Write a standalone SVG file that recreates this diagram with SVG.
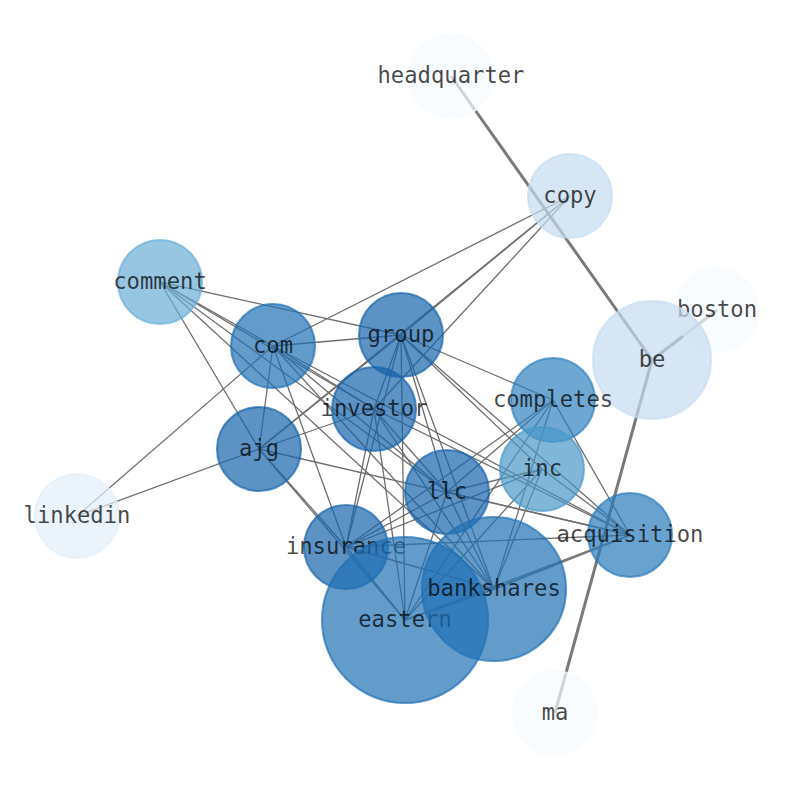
<svg xmlns="http://www.w3.org/2000/svg" width="794" height="790" viewBox="0 0 794 790">
<style>
.e{stroke:#6e6e6e;stroke-width:1.3;fill:none}
.t{stroke:#7a7a7a;stroke-width:3;fill:none}
.n{fill-opacity:0.7;stroke-opacity:0.7;stroke-width:2.1}
.l{font-family:"DejaVu Sans Mono",monospace;font-size:22.2px;fill:#000;fill-opacity:0.72;text-anchor:middle}
</style>
<rect width="794" height="790" fill="#fff"/>
<g id="edges">
<line class="t" x1="451" y1="76" x2="652" y2="360"/>
<line class="t" x1="652" y1="360" x2="717" y2="310"/>
<line class="t" x1="652" y1="360" x2="555" y2="713"/>
<line class="e" x1="570" y1="196" x2="273" y2="346"/>
<line class="e" x1="570" y1="196" x2="401" y2="335"/>
<line class="e" x1="570" y1="196" x2="259" y2="449"/>
<line class="e" x1="570" y1="196" x2="374" y2="409"/>
<line class="e" x1="160" y1="282" x2="401" y2="335"/>
<line class="e" x1="160" y1="282" x2="273" y2="346"/>
<line class="e" x1="160" y1="282" x2="374" y2="409"/>
<line class="e" x1="160" y1="282" x2="447" y2="492"/>
<line class="e" x1="160" y1="282" x2="494" y2="589"/>
<line class="e" x1="160" y1="282" x2="259" y2="449"/>
<line class="e" x1="273" y1="346" x2="401" y2="335"/>
<line class="e" x1="273" y1="346" x2="259" y2="449"/>
<line class="e" x1="273" y1="346" x2="77" y2="516"/>
<line class="e" x1="273" y1="346" x2="346" y2="547"/>
<line class="e" x1="273" y1="346" x2="374" y2="409"/>
<line class="e" x1="273" y1="346" x2="447" y2="492"/>
<line class="e" x1="273" y1="346" x2="494" y2="589"/>
<line class="e" x1="273" y1="346" x2="630" y2="535"/>
<line class="e" x1="259" y1="449" x2="77" y2="516"/>
<line class="e" x1="259" y1="449" x2="346" y2="547"/>
<line class="e" x1="259" y1="449" x2="405" y2="620"/>
<line class="e" x1="259" y1="449" x2="374" y2="409"/>
<line class="e" x1="259" y1="449" x2="401" y2="335"/>
<line class="e" x1="259" y1="449" x2="630" y2="535"/>
<line class="e" x1="401" y1="335" x2="374" y2="409"/>
<line class="e" x1="401" y1="335" x2="553" y2="400"/>
<line class="e" x1="401" y1="335" x2="542" y2="469"/>
<line class="e" x1="401" y1="335" x2="630" y2="535"/>
<line class="e" x1="401" y1="335" x2="447" y2="492"/>
<line class="e" x1="401" y1="335" x2="494" y2="589"/>
<line class="e" x1="401" y1="335" x2="405" y2="620"/>
<line class="e" x1="401" y1="335" x2="346" y2="547"/>
<line class="e" x1="374" y1="409" x2="447" y2="492"/>
<line class="e" x1="374" y1="409" x2="494" y2="589"/>
<line class="e" x1="374" y1="409" x2="405" y2="620"/>
<line class="e" x1="374" y1="409" x2="346" y2="547"/>
<line class="e" x1="374" y1="409" x2="630" y2="535"/>
<line class="e" x1="553" y1="400" x2="630" y2="535"/>
<line class="e" x1="553" y1="400" x2="346" y2="547"/>
<line class="e" x1="553" y1="400" x2="447" y2="492"/>
<line class="e" x1="553" y1="400" x2="405" y2="620"/>
<line class="e" x1="553" y1="400" x2="494" y2="589"/>
<line class="e" x1="542" y1="469" x2="346" y2="547"/>
<line class="e" x1="542" y1="469" x2="447" y2="492"/>
<line class="e" x1="542" y1="469" x2="405" y2="620"/>
<line class="e" x1="542" y1="469" x2="494" y2="589"/>
<line class="e" x1="542" y1="469" x2="630" y2="535"/>
<line class="e" x1="346" y1="547" x2="630" y2="535"/>
<line class="e" x1="346" y1="547" x2="494" y2="589"/>
<line class="e" x1="346" y1="547" x2="447" y2="492"/>
<line class="e" x1="346" y1="547" x2="405" y2="620"/>
<line class="e" x1="447" y1="492" x2="630" y2="535"/>
<line class="e" x1="447" y1="492" x2="494" y2="589"/>
<line class="e" x1="447" y1="492" x2="405" y2="620"/>
<line class="e" x1="405" y1="620" x2="630" y2="535"/>
<line class="t" x1="405" y1="620" x2="494" y2="589" style="stroke-width:2.2"/>
<line class="t" x1="494" y1="589" x2="630" y2="535" style="stroke-width:2.2"/>
</g>
<g id="node-headquarter"><circle class="n" cx="451" cy="76" r="42" fill="#f7fbff" stroke="#f7fbff"/><text class="l" x="451" y="83">headquarter</text></g>
<g id="node-copy"><circle class="n" cx="570" cy="196" r="42" fill="#c6dbef" stroke="#c6dbef"/><text class="l" x="570" y="203">copy</text></g>
<g id="node-comment"><circle class="n" cx="160" cy="282" r="42" fill="#6baed6" stroke="#6baed6"/><text class="l" x="160" y="289">comment</text></g>
<g id="node-com"><circle class="n" cx="273" cy="346" r="42" fill="#2171b5" stroke="#2171b5"/><text class="l" x="273" y="353">com</text></g>
<g id="node-group"><circle class="n" cx="401" cy="335" r="42" fill="#1764ab" stroke="#1764ab"/><text class="l" x="401" y="342">group</text></g>
<g id="node-investor"><circle class="n" cx="374" cy="409" r="42" fill="#1764ab" stroke="#1764ab"/><text class="l" x="374" y="416">investor</text></g>
<g id="node-ajg"><circle class="n" cx="259" cy="449" r="42" fill="#1764ab" stroke="#1764ab"/><text class="l" x="259" y="456">ajg</text></g>
<g id="node-boston"><circle class="n" cx="717" cy="310" r="42" fill="#f7fbff" stroke="#f7fbff"/><text class="l" x="717" y="317">boston</text></g>
<g id="node-be"><circle class="n" cx="652" cy="360" r="59" fill="#c6dbef" stroke="#c6dbef"/><text class="l" x="652" y="367">be</text></g>
<g id="node-completes"><circle class="n" cx="553" cy="400" r="42" fill="#3182bd" stroke="#3182bd"/><text class="l" x="553" y="407">completes</text></g>
<g id="node-inc"><circle class="n" cx="542" cy="469" r="42" fill="#4a98c9" stroke="#4a98c9"/><text class="l" x="542" y="476">inc</text></g>
<g id="node-llc"><circle class="n" cx="447" cy="492" r="42" fill="#1764ab" stroke="#1764ab"/><text class="l" x="447" y="499">llc</text></g>
<g id="node-linkedin"><circle class="n" cx="77" cy="516" r="42" fill="#e3eef9" stroke="#e3eef9"/><text class="l" x="77" y="523">linkedin</text></g>
<g id="node-acquisition"><circle class="n" cx="630" cy="535" r="42" fill="#2b7bba" stroke="#2b7bba"/><text class="l" x="630" y="542">acquisition</text></g>
<g id="node-insurance"><circle class="n" cx="346" cy="547" r="42" fill="#1764ab" stroke="#1764ab"/><text class="l" x="346" y="554">insurance</text></g>
<g id="node-eastern"><circle class="n" cx="405" cy="620" r="83" fill="#2171b5" stroke="#2171b5"/><text class="l" x="405" y="627">eastern</text></g>
<g id="node-bankshares"><circle class="n" cx="494" cy="589" r="72" fill="#2171b5" stroke="#2171b5"/><text class="l" x="494" y="596">bankshares</text></g>
<g id="node-ma"><circle class="n" cx="555" cy="713" r="42" fill="#f7fbff" stroke="#f7fbff"/><text class="l" x="555" y="720">ma</text></g>
</svg>
